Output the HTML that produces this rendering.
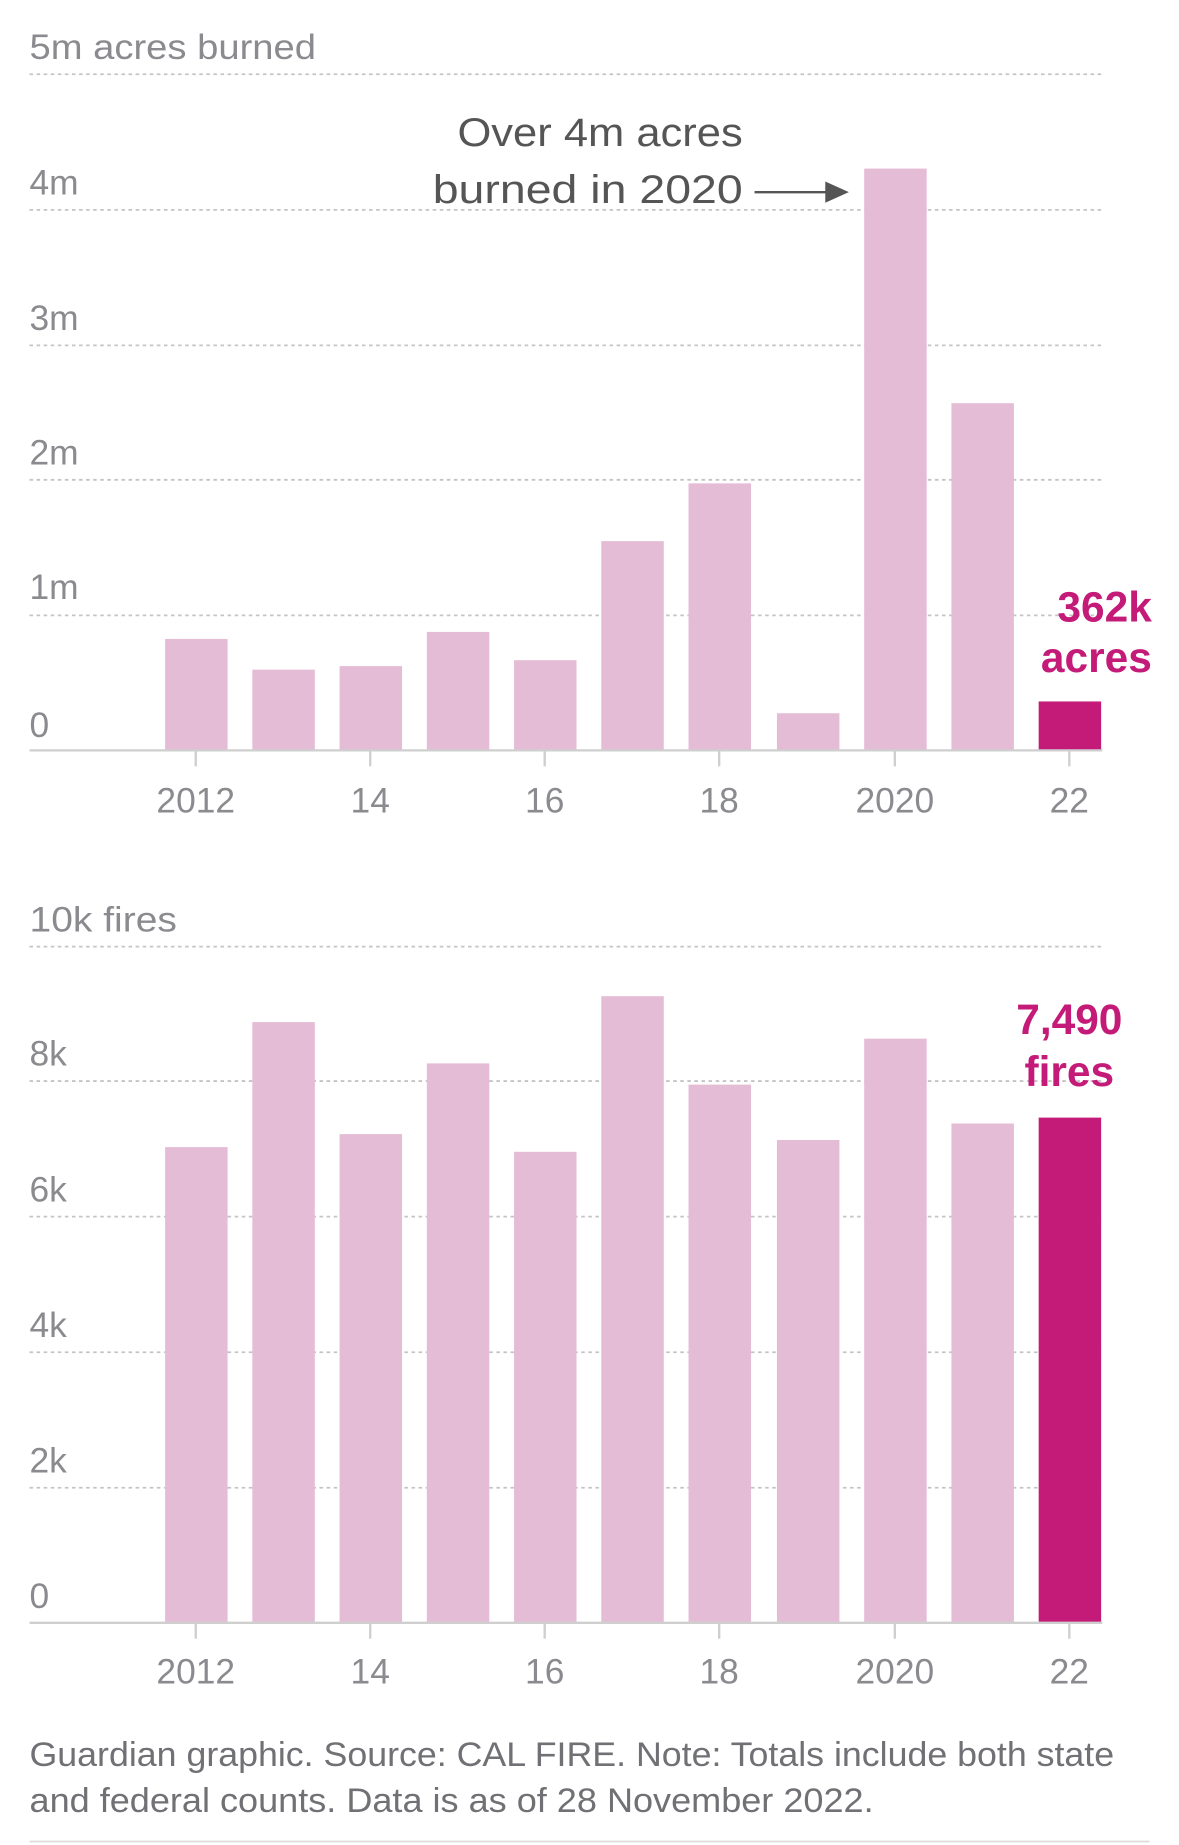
<!DOCTYPE html>
<html><head><meta charset="utf-8"><style>html,body{margin:0;padding:0;background:#fff}svg{display:block}</style></head>
<body>
<svg width="1179" height="1845" viewBox="0 0 1000 1565" xmlns="http://www.w3.org/2000/svg" font-family="Liberation Sans, DejaVu Sans, sans-serif">
<g stroke="#c4c4c4" stroke-width="1.5" stroke-dasharray="3,3">
<line x1="25" x2="935" y1="63" y2="63"/><line x1="25" x2="935" y1="178" y2="178"/><line x1="25" x2="935" y1="293" y2="293"/><line x1="25" x2="935" y1="407" y2="407"/><line x1="25" x2="935" y1="522" y2="522"/>
<line x1="25" x2="935" y1="803" y2="803"/><line x1="25" x2="935" y1="917" y2="917"/><line x1="25" x2="935" y1="1032" y2="1032"/><line x1="25" x2="935" y1="1147" y2="1147"/><line x1="25" x2="935" y1="1262" y2="1262"/>
</g>
<g fill="#8a8a8f" font-size="30">
<text x="25" y="50" textLength="243" lengthAdjust="spacingAndGlyphs">5m acres burned</text>
<text x="25" y="165">4m</text><text x="25" y="280">3m</text><text x="25" y="394">2m</text><text x="25" y="508">1m</text><text x="25" y="625">0</text>
<text x="25" y="790" textLength="125" lengthAdjust="spacingAndGlyphs">10k fires</text>
<text x="25" y="904">8k</text><text x="25" y="1019">6k</text><text x="25" y="1134">4k</text><text x="25" y="1249">2k</text><text x="25" y="1364">0</text>
</g>
<g fill="#e5bcd6">
<rect x="140" y="542" width="53" height="94"/><rect x="214" y="568" width="53" height="68"/><rect x="288" y="565" width="53" height="71"/><rect x="362" y="536" width="53" height="100"/><rect x="436" y="560" width="53" height="76"/><rect x="510" y="459" width="53" height="177"/><rect x="584" y="410" width="53" height="226"/><rect x="659" y="605" width="53" height="31"/><rect x="733" y="143" width="53" height="493"/><rect x="807" y="342" width="53" height="294"/>
<rect x="140" y="973" width="53" height="403"/><rect x="214" y="867" width="53" height="509"/><rect x="288" y="962" width="53" height="414"/><rect x="362" y="902" width="53" height="474"/><rect x="436" y="977" width="53" height="399"/><rect x="510" y="845" width="53" height="531"/><rect x="584" y="920" width="53" height="456"/><rect x="659" y="967" width="53" height="409"/><rect x="733" y="881" width="53" height="495"/><rect x="807" y="953" width="53" height="423"/>
</g>
<g fill="#c41a78"><rect x="881" y="595" width="53" height="41"/><rect x="881" y="948" width="53" height="428"/></g>
<g stroke="#cfcfcf" stroke-width="2">
<line x1="25" x2="935" y1="636.5" y2="636.5"/><line x1="25" x2="935" y1="1376.5" y2="1376.5"/>
<line x1="166" x2="166" y1="637" y2="650"/><line x1="314" x2="314" y1="637" y2="650"/><line x1="462" x2="462" y1="637" y2="650"/><line x1="610" x2="610" y1="637" y2="650"/><line x1="759" x2="759" y1="637" y2="650"/><line x1="907" x2="907" y1="637" y2="650"/>
<line x1="166" x2="166" y1="1377" y2="1390"/><line x1="314" x2="314" y1="1377" y2="1390"/><line x1="462" x2="462" y1="1377" y2="1390"/><line x1="610" x2="610" y1="1377" y2="1390"/><line x1="759" x2="759" y1="1377" y2="1390"/><line x1="907" x2="907" y1="1377" y2="1390"/>
</g>
<g fill="#8a8a8f" font-size="30" text-anchor="middle">
<text x="166" y="689">2012</text><text x="314" y="689">14</text><text x="462" y="689">16</text><text x="610" y="689">18</text><text x="759" y="689">2020</text><text x="907" y="689">22</text>
<text x="166" y="1428">2012</text><text x="314" y="1428">14</text><text x="462" y="1428">16</text><text x="610" y="1428">18</text><text x="759" y="1428">2020</text><text x="907" y="1428">22</text>
</g>
<g fill="#555" font-size="34">
<text x="388" y="124" textLength="242" lengthAdjust="spacingAndGlyphs">Over 4m acres</text>
<text x="367" y="172" textLength="263" lengthAdjust="spacingAndGlyphs">burned in 2020</text>
</g>
<line x1="640" x2="704" y1="163" y2="163" stroke="#555" stroke-width="2"/>
<polygon points="700,154 720,163 700,172" fill="#555"/>
<g fill="#c41a78" font-size="36" font-weight="bold">
<text x="977" y="527" text-anchor="end">362k</text>
<text x="977" y="570" text-anchor="end">acres</text>
<text x="907" y="877" text-anchor="middle">7,490</text>
<text x="907" y="921" text-anchor="middle">fires</text>
</g>
<g fill="#707075" font-size="29">
<text x="25" y="1498" textLength="920" lengthAdjust="spacingAndGlyphs">Guardian graphic. Source: CAL FIRE. Note: Totals include both state</text>
<text x="25" y="1537" textLength="716" lengthAdjust="spacingAndGlyphs">and federal counts. Data is as of 28 November 2022.</text>
</g>
<line x1="25" x2="975" y1="1562" y2="1562" stroke="#dcdcdc" stroke-width="1.5"/>
</svg>
</body></html>
